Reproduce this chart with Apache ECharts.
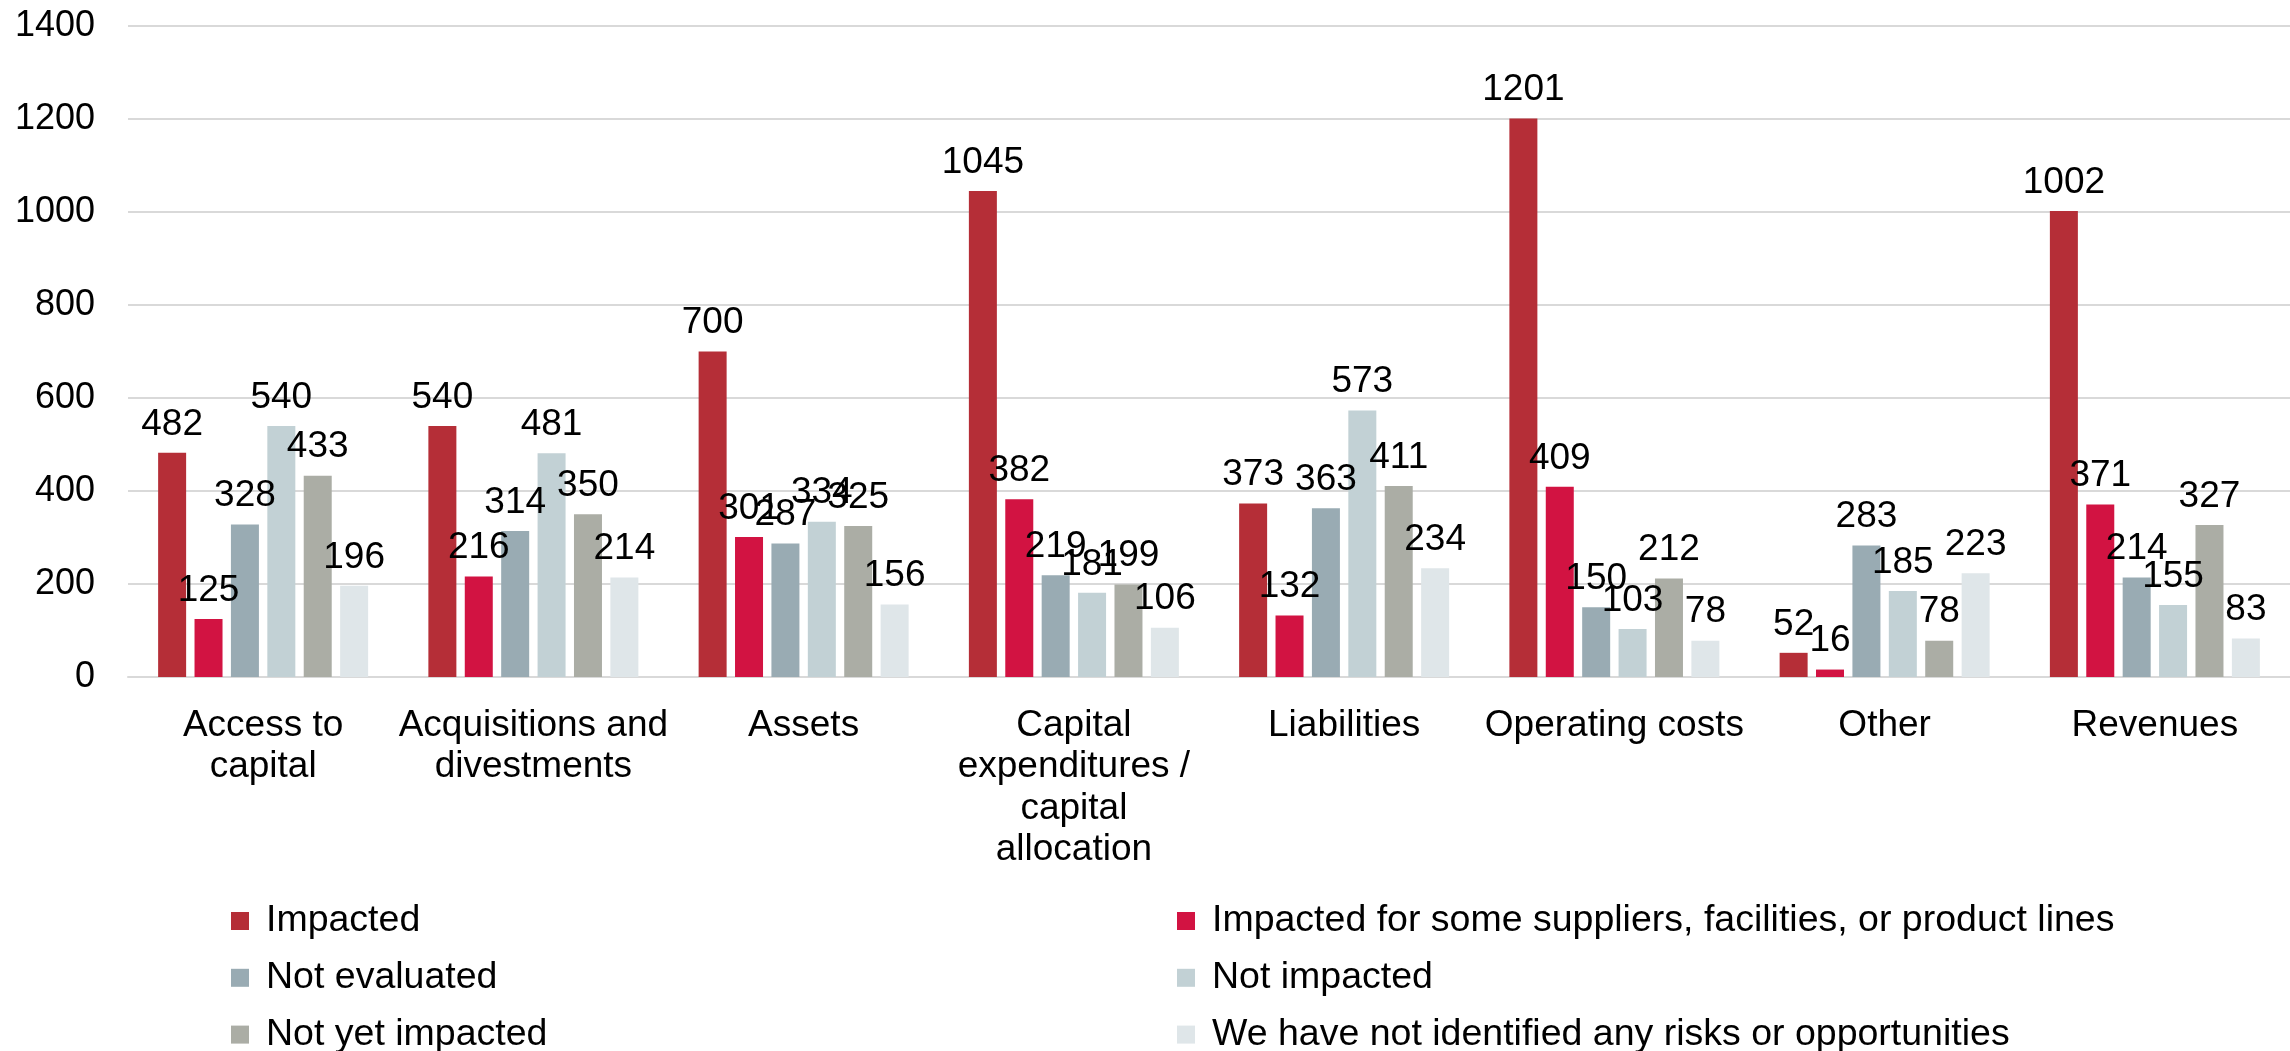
<!DOCTYPE html>
<html>
<head>
<meta charset="utf-8">
<script src="https://cdn.jsdelivr.net/npm/echarts@6/dist/echarts.min.js"></script>
<style>
html,body{margin:0;padding:0;background:#fff;}
#c{width:2290px;height:1051px;}
</style>
</head>
<body>
<div id="c"></div>
<script>
const categories = ["Access to\ncapital", "Acquisitions and\ndivestments", "Assets", "Capital\nexpenditures /\ncapital\nallocation", "Liabilities", "Operating costs", "Other", "Revenues"];
const seriesNames = ["Impacted", "Impacted for some suppliers, facilities, or product lines", "Not evaluated", "Not impacted", "Not yet impacted", "We have not identified any risks or opportunities"];
const impacted = [482, 540, 700, 1045, 373, 1201, 52, 1002];
const impactedSome = [125, 216, 301, 382, 132, 409, 16, 371];
const notEvaluated = [328, 314, 287, 219, 363, 150, 283, 214];
const notImpacted = [540, 481, 334, 181, 573, 103, 185, 155];
const notYetImpacted = [433, 350, 325, 199, 411, 212, 78, 327];
const notIdentified = [196, 214, 156, 106, 234, 78, 223, 83];
const yTicks = [0, 200, 400, 600, 800, 1000, 1200, 1400];

const colors = ["#b52e37", "#d21342", "#99abb3", "#c2d1d5", "#abada5", "#dfe6e9"];
const values = [impacted, impactedSome, notEvaluated, notImpacted, notYetImpacted, notIdentified];
const FONT = "Liberation Sans, Arial, sans-serif";

function legendCol(names, left) {
  return {
    data: names,
    orient: 'vertical', left: left, top: 902, height: 180, padding: 0,
    icon: 'rect', itemWidth: 18, itemHeight: 18, itemGap: 18.8,
    textStyle: {fontFamily: FONT, fontSize: 37.5, color: '#000', lineHeight: 36, padding: [0, 0, 0, 12]}
  };
}

const chart = echarts.init(document.getElementById('c'));
chart.setOption({
  animation: false,
  backgroundColor: '#ffffff',
  color: colors,
  grid: {left: 128, right: -14, top: 26, bottom: 1051 - 677, containLabel: false},
  legend: [
    legendCol([seriesNames[0], seriesNames[2], seriesNames[4]], 231),
    legendCol([seriesNames[1], seriesNames[3], seriesNames[5]], 1177)
  ],
  xAxis: {
    type: 'category',
    data: categories,
    axisLine: {show: true, lineStyle: {color: '#d9d9d9', width: 2}},
    axisTick: {show: false},
    axisLabel: {fontFamily: FONT, fontSize: 37, color: '#000', lineHeight: 41.5, margin: 28, interval: 0, align: 'center'}
  },
  yAxis: {
    type: 'value',
    min: 0, max: 1400, interval: 200,
    axisLine: {show: false},
    axisTick: {show: false},
    splitLine: {lineStyle: {color: '#d9d9d9', width: 2}},
    axisLabel: {fontFamily: FONT, fontSize: 36, color: '#000', margin: 33,
      formatter: function (v) { return yTicks.indexOf(v) >= 0 ? String(v) : ''; }}
  },
  series: values.map(function (vals, i) {
    return {
      name: seriesNames[i],
      type: 'bar',
      data: vals,
      barWidth: 28,
      barGap: '30%',
      itemStyle: {color: colors[i]},
      label: {show: true, position: 'top', distance: 10, fontFamily: FONT, fontSize: 37, color: '#000'}
    };
  })
});
</script>
</body>
</html>
